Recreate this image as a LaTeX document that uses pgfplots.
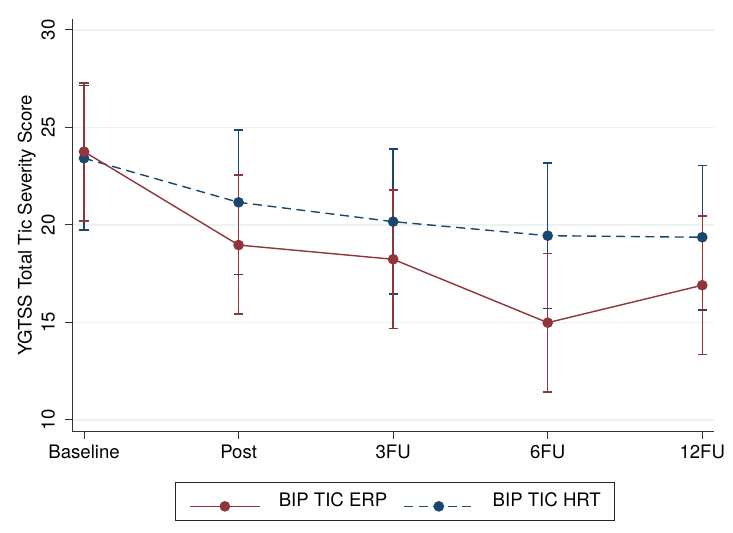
\documentclass[border=0pt]{standalone}
\usepackage{pgfplots}
\pgfplotsset{compat=1.18}
\usepackage{pgfplotstable}
\usepackage{fontspec}
\setmainfont{TeX Gyre Heros}
\setsansfont{TeX Gyre Heros}
\definecolor{sterp}{HTML}{90353B}
\definecolor{sthrt}{HTML}{1A476F}
\definecolor{gridc}{HTML}{EAF2F3}

\pgfplotstableread{
x m lo hi
0 23.76 20.21 27.27
1 18.97 15.44 22.56
2 18.24 14.68 21.79
3 14.99 11.44 18.55
4 16.91 13.35 20.46
}\erp
\pgfplotstableread{
x m lo hi
0 23.42 19.74 27.16
1 21.16 17.45 24.87
2 20.17 16.46 23.90
3 19.45 15.73 23.18
4 19.37 15.64 23.06
}\hrt

\begin{document}
\begin{tikzpicture}[font=\fontsize{9.3pt}{11pt}\selectfont]
\begin{axis}[
  at={(0,0)}, anchor=south west,
  scale only axis, width=320.85pt, height=206.5pt,
  xmin=-0.076, xmax=4.076, ymin=9.385, ymax=30.56,
  axis lines=left, axis line style={-, black!80, line width=0.5pt},
  xtick={0,1,2,3,4}, xticklabels={Baseline,Post,3FU,6FU,12FU},
  ytick={10,15,20,25,30},
  tick align=outside, major tick length=3.5pt,
  tick style={black!80, line width=0.5pt},
  ymajorgrids, grid style={color=gridc, line width=0.6pt},
  /pgf/number format/assume math mode=true,
  yticklabel style={rotate=90, anchor=south, inner sep=0pt},
  yticklabel shift=5pt,
  xticklabel style={inner sep=0pt, anchor=north, yshift=-3pt},
  ylabel={YGTSS Total Tic Severity Score},
  every axis y label/.style={at={(axis description cs:-0.0633,0.5)}, rotate=90, anchor=base},
  legend style={at={(0.503,-0.121)}, anchor=north, draw=black!85, line width=0.5pt,
    legend columns=2, inner xsep=7pt, inner ysep=5pt,
    nodes={inner sep=0pt, anchor=base},
    /tikz/every odd column/.append style={column sep=9.25pt},
    /tikz/every even column/.append style={column sep=8pt}},
  legend image code/.code={\draw[mark repeat=2,mark phase=2,#1] plot coordinates {(0pt,0pt) (17.4pt,0pt) (34.75pt,0pt)};},
]
\addlegendimage{sterp, line width=0.7pt, solid, mark=*, mark size=2.3pt, mark options={solid}}
\addlegendentry{BIP TIC ERP}
\addlegendimage{sthrt, line width=0.7pt, dash pattern=on 4.5pt off 2.8pt, mark=*, mark size=2.3pt, mark options={solid}}
\addlegendentry{BIP TIC HRT}

\addplot[forget plot, draw=none, mark=none,
  error bars/.cd, y dir=both, y explicit, error mark=|,
  error bar style={draw=sthrt, solid, line width=0.7pt},
  error mark options={draw=sthrt, mark size=2.3pt, line width=0.7pt}]
  table[x=x, y=m, y error plus expr=\thisrow{hi}-\thisrow{m}, y error minus expr=\thisrow{m}-\thisrow{lo}] {\hrt};
\addplot[forget plot, draw=none, mark=none,
  error bars/.cd, y dir=both, y explicit, error mark=|,
  error bar style={draw=sterp, solid, line width=0.7pt},
  error mark options={draw=sterp, mark size=2.3pt, line width=0.7pt}]
  table[x=x, y=m, y error plus expr=\thisrow{hi}-\thisrow{m}, y error minus expr=\thisrow{m}-\thisrow{lo}] {\erp};
\addplot[forget plot, sthrt, line width=0.7pt, dash pattern=on 4.5pt off 2.8pt, mark=*, mark size=2.3pt, mark options={solid}]
  table[x=x, y=m] {\hrt};
\addplot[forget plot, sterp, line width=0.7pt, solid, mark=*, mark size=2.3pt, mark options={solid}]
  table[x=x, y=m] {\erp};
\end{axis}
\pgfresetboundingbox
\useasboundingbox (-36.15pt,-50.5pt) rectangle (330.35pt,216pt);
\end{tikzpicture}
\end{document}
